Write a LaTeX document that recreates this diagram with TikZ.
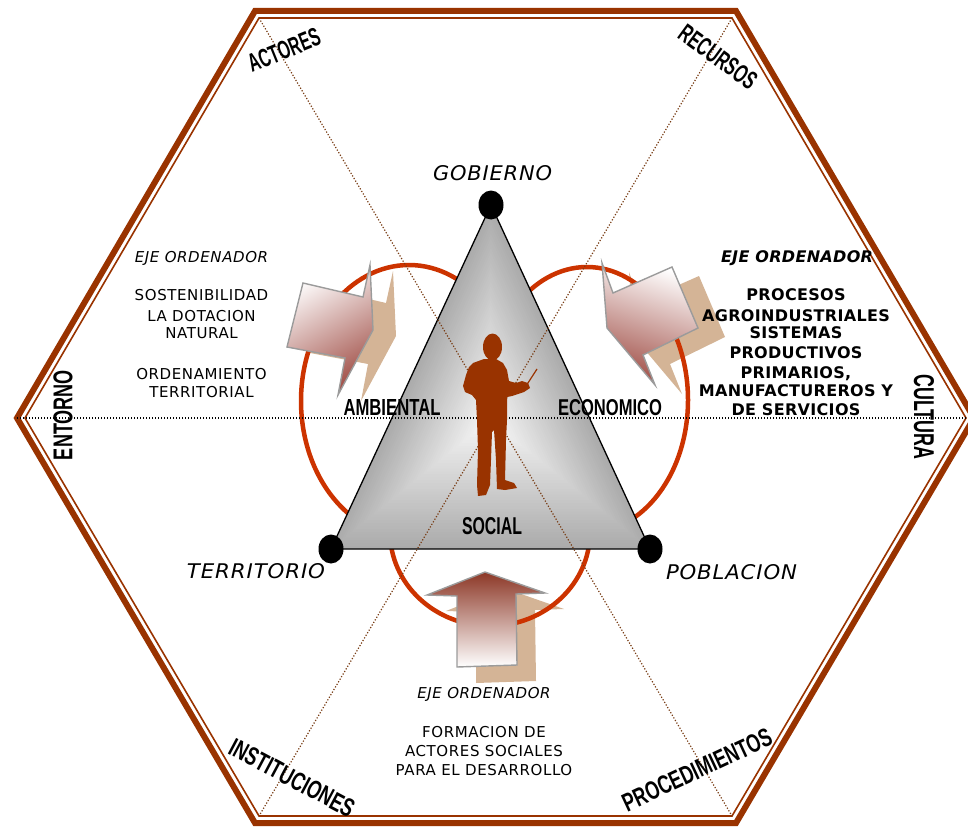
\documentclass[tikz,border=0pt]{standalone}
\usepackage{fontspec}
\usepackage{graphicx}
\setmainfont{DejaVu Sans}
\newfontfamily\libsans{Liberation Sans}
\newfontfamily\libbold{Liberation Sans Bold}
\newfontfamily\dvreg[LetterSpace=4]{DejaVu Sans}
\newfontfamily\dvit[LetterSpace=4]{DejaVu Sans Oblique}
\newfontfamily\dvbold[LetterSpace=2]{DejaVu Sans Bold}
\newfontfamily\dvboldit[LetterSpace=2]{DejaVu Sans Bold Oblique}
\usetikzlibrary{calc}
\definecolor{hexbrown}{RGB}{153,51,0}
\definecolor{ringred}{RGB}{204,51,0}
\definecolor{dotbrown}{RGB}{120,60,20}
\definecolor{shadowtan}{RGB}{212,180,150}
\definecolor{arrowdark}{RGB}{160,78,70}
\definecolor{arrowdarktop}{RGB}{140,55,38}
\definecolor{arrowline}{RGB}{155,155,155}
\definecolor{personbrown}{RGB}{153,51,0}
\begin{document}
\begin{tikzpicture}[x=1pt,y=-1pt,
  txt/.style={inner sep=0pt, outer sep=0pt, anchor=base},
  corner/.style={inner sep=0pt, outer sep=0pt, anchor=center},
  ring/.style={draw=ringred, line width=4.5pt},
  shadowshape/.style={fill=shadowtan},
  arrowshape/.style={draw=arrowline, line width=1.4pt},
  diag/.style={draw=dotbrown, line width=1.2pt, dash pattern=on 1.2pt off 1.8pt},
  horiz/.style={draw=black, line width=1.2pt, dash pattern=on 1.2pt off 1.8pt},
  vdot/.style={fill=black},
  regtxt/.style={txt, font=\fontsize{15}{18}\dvreg},
  ittxt/.style={txt, font=\fontsize{15}{18}\dvit},
  boldtxt/.style={txt, font=\fontsize{16}{19}\dvbold},
  bolditxt/.style={txt, font=\fontsize{16}{19}\dvboldit}
]
\useasboundingbox (0,0) rectangle (968,829);

% ---------- hexagon ----------
\coordinate (oA) at (255,11);
\coordinate (oB) at (736,11);
\coordinate (oC) at (974,418);
\coordinate (oD) at (736,823);
\coordinate (oE) at (255,823);
\coordinate (oF) at (17,418);
\coordinate (iA) at (259,18);
\coordinate (iB) at (732,18);
\coordinate (iC) at (966,418);
\coordinate (iD) at (732,816);
\coordinate (iE) at (259,816);
\coordinate (iF) at (25,418);
\draw[hexbrown, line width=6pt, line join=miter] (oA) -- (oB) -- (oC) -- (oD) -- (oE) -- (oF) -- cycle;
\draw[hexbrown, line width=1.6pt, line join=miter] (iA) -- (iB) -- (iC) -- (iD) -- (iE) -- (iF) -- cycle;

% ---------- arrow shadows ----------
\fill[shadowtan, shift={(23,6)}] (303,283) -- (363,297) -- (370,265) -- (373,330) -- (338,395) -- (345,358) -- (287,347) -- cycle;
\fill[shadowtan, shift={(27,9)}] (602,263) -- (613,293) -- (672,267) -- (698,328) -- (643,355) -- (655,385) -- (607,328) -- cycle;
\fill[shadowtan, shift={(19,16)}] (485,572) -- (545,593) -- (516,594) -- (517,665) -- (457,667) -- (457,596) -- (427,595) -- cycle;

% ---------- rings ----------
\draw[ring] (409,401) ellipse [x radius=108, y radius=136];
\draw[ring] (587,400) ellipse [x radius=101, y radius=133];
\draw[ring] (490,532) ellipse [x radius=100, y radius=94];

% ---------- arrows ----------
\shadedraw[arrowshape, top color=white, bottom color=arrowdark, shading angle=30]
  (303,283) -- (363,297) -- (370,265) -- (373,330) -- (338,395) -- (345,358) -- (287,347) -- cycle;
\shadedraw[arrowshape, top color=white, bottom color=arrowdark, shading angle=-18]
  (602,263) -- (613,293) -- (672,267) -- (698,328) -- (643,355) -- (655,385) -- (607,328) -- cycle;
\shadedraw[arrowshape, top color=arrowdarktop, bottom color=white]
  (485,572) -- (545,593) -- (516,594) -- (517,665) -- (457,667) -- (457,596) -- (427,595) -- cycle;

% ---------- triangle ----------
\coordinate (tGob) at (491,205);
\coordinate (tTer) at (331,549);
\coordinate (tPob) at (650,549);
\coordinate (tC) at (490,420);
\foreach \i in {0,...,44} {
  \pgfmathsetmacro\s{1-\i/45}
  \pgfmathsetmacro\k{3+30*\s}
  \fill[black!\k] ($(tC)!\s!(tGob)$) -- ($(tC)!\s!(tTer)$) -- ($(tC)!\s!(tPob)$) -- cycle;
}
\draw[black, line width=1.3pt, line join=miter] (tGob) -- (tTer) -- (tPob) -- cycle;

% ---------- dotted axes ----------
\draw[diag] (iA) -- (iD);
\draw[diag] (iB) -- (iE);
\draw[horiz] (oF) -- (iC);

% ---------- vertex dots ----------
\fill[vdot] (tGob) ellipse [x radius=12.5, y radius=14.5];
\fill[vdot] (tTer) ellipse [x radius=12.5, y radius=14.5];
\fill[vdot] (tPob) ellipse [x radius=12.5, y radius=14.5];

% ---------- person ----------
\fill[personbrown] (492.5,347) ellipse [x radius=9.5, y radius=13.5];
\fill[personbrown] (473,363) -- (484,359) -- (496,359) -- (503,363) -- (507,370) -- (509,381)
  -- (516,383) -- (522,381) -- (528,383) -- (530,388) -- (524,392) -- (512,396) -- (507,397)
  -- (507,420) -- (506,440) -- (505,480) -- (514,483) -- (517,488) -- (505,490) -- (497,489)
  -- (496,460) -- (494,430) -- (492,432) -- (491,460) -- (490,485) -- (486,495) -- (478,496)
  -- (477,485) -- (478,450) -- (477,420) -- (476,400) -- (472,395) -- (465,392) -- (463,386)
  -- (466,375) -- (469,367) -- cycle;
\draw[personbrown, line width=1.2pt] (526,386) -- (537,369);

% ---------- vertex labels ----------
\node[txt] (gob) at (492.5,180) {\resizebox{119pt}{15pt}{\dvit GOBIERNO}};
\node[txt] (ter) at (256,578) {\resizebox{138pt}{15pt}{\dvit TERRITORIO}};
\node[txt] (pob) at (731.5,579) {\resizebox{131pt}{15pt}{\dvit POBLACION}};

% ---------- dimension labels ----------
\node[txt] (amb) at (392,415) {\resizebox{97pt}{16pt}{\libbold AMBIENTAL}};
\node[txt] (eco) at (610,415) {\resizebox{104pt}{16pt}{\libbold ECONOMICO}};
\node[txt] (soc) at (492,534) {\resizebox{60pt}{17pt}{\libbold SOCIAL}};

% ---------- corner labels ----------
\node[corner, rotate=22] (act) at (284,50) {\resizebox{76pt}{18pt}{\libbold ACTORES}};
\node[corner, rotate=-36] (rec) at (718,57) {\resizebox{90pt}{18pt}{\libbold RECURSOS}};
\node[corner, rotate=90] (ent) at (63,415) {\resizebox{90pt}{19pt}{\libbold ENTORNO}};
\node[corner, rotate=-90] (cul) at (924,417) {\resizebox{85pt}{20pt}{\libbold CULTURA}};
\node[corner, rotate=-28] (ins) at (292,778) {\resizebox{138pt}{18pt}{\libbold INSTITUCIONES}};
\node[corner, rotate=25] (pro) at (697,770) {\resizebox{162pt}{18pt}{\libbold PROCEDIMIENTOS}};

% ---------- left block ----------
\node[ittxt] (l0) at (201.5,262) {EJE ORDENADOR};
\node[regtxt] (l1) at (201.5,300) {SOSTENIBILIDAD};
\node[regtxt] (l2) at (201.5,321) {LA DOTACION};
\node[regtxt] (l3) at (201.5,338) {NATURAL};
\node[regtxt] (l4) at (201.5,379) {ORDENAMIENTO};
\node[regtxt] (l5) at (201.5,397) {TERRITORIAL};

% ---------- right block ----------
\node[bolditxt] (r0) at (797,262) {EJE ORDENADOR};
\node[boldtxt] (r1) at (796,300) {PROCESOS};
\node[boldtxt] (r2) at (796,321) {AGROINDUSTRIALES};
\node[boldtxt] (r3) at (796,338) {SISTEMAS};
\node[boldtxt] (r4) at (796,358) {PRODUCTIVOS};
\node[boldtxt] (r5) at (796,378) {PRIMARIOS,};
\node[boldtxt] (r6) at (796,396) {MANUFACTUREROS Y};
\node[boldtxt] (r7) at (796,415) {DE SERVICIOS};

% ---------- bottom block ----------
\node[ittxt] (b0) at (484,698) {EJE ORDENADOR};
\node[regtxt] (b1) at (484,737) {FORMACION DE};
\node[regtxt] (b2) at (484,756) {ACTORES SOCIALES};
\node[regtxt] (b3) at (484,775) {PARA EL DESARROLLO};
\end{tikzpicture}
\end{document}
